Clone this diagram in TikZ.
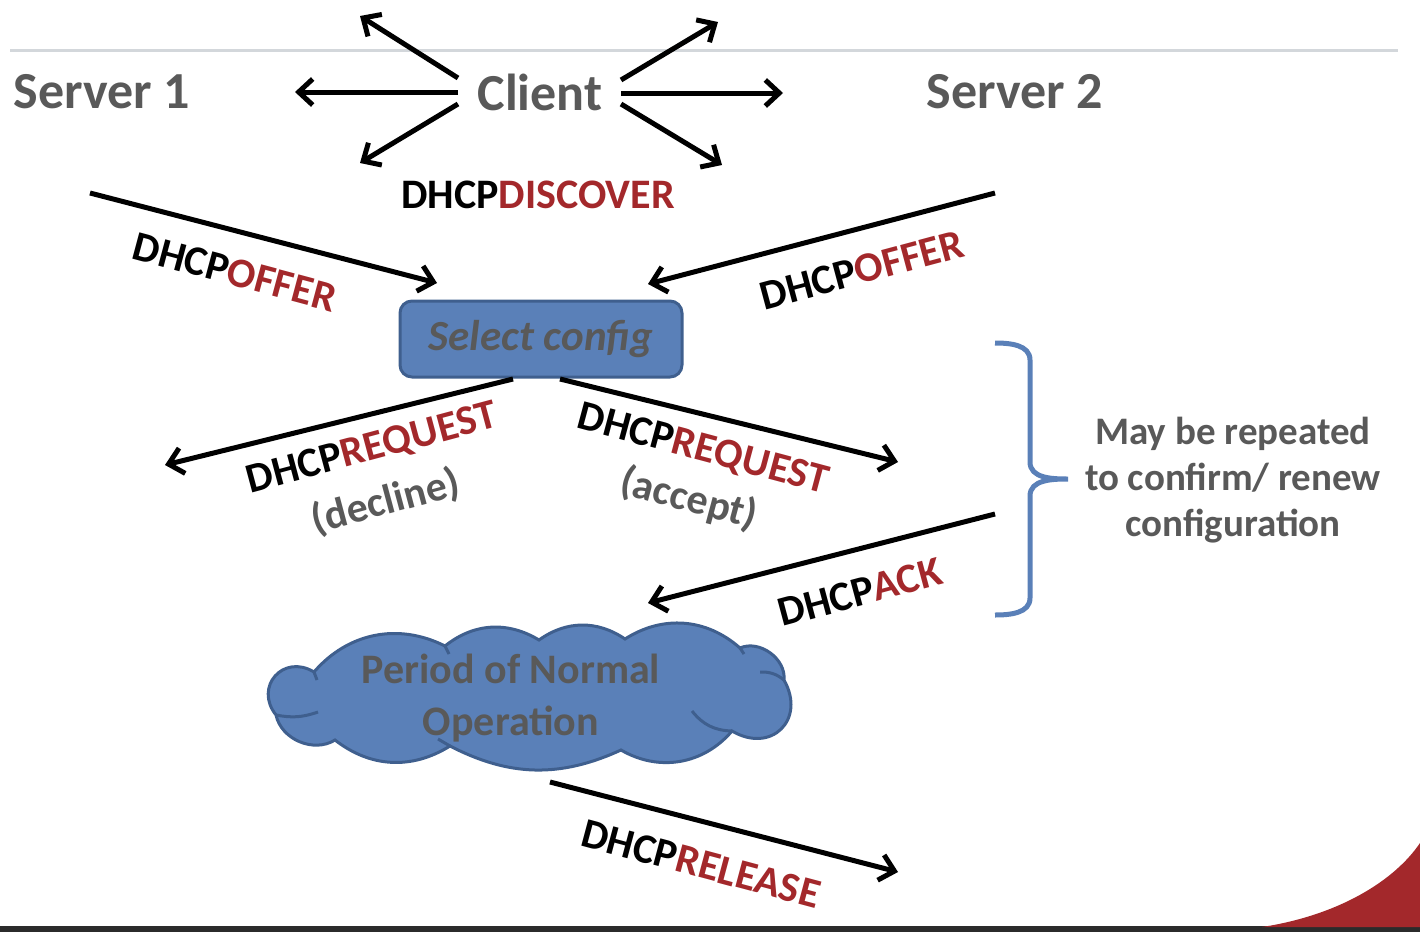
\documentclass[tikz,border=0pt]{standalone}
\usepackage{fontspec}
\setmainfont{Carlito}
\usetikzlibrary{arrows.meta}
\definecolor{dred}{HTML}{A3282B}
\definecolor{tgray}{HTML}{595959}
\definecolor{oblue}{HTML}{5A80B8}
\definecolor{bblue}{HTML}{3F5F8E}
\definecolor{lgray}{HTML}{D3D7DB}
\definecolor{bar}{HTML}{2B2B2B}
\newcommand{\dhcpmsg}[1]{DHCP\textcolor{dred}{#1}}
\tikzset{
  arr/.style={line width=2.5pt,-{Straight Barb[length=7pt,width=13pt]}},
  msg/.style={font=\bfseries\fontsize{21}{25}\selectfont,inner sep=0pt},
  sub/.style={font=\bfseries\fontsize{21}{25}\selectfont,text=tgray,inner sep=0pt},
  ttl/.style={font=\bfseries\fontsize{26}{30}\selectfont,text=tgray,inner sep=0pt},
  cloudline/.style={draw=bblue,line width=1.5pt},
}
\begin{document}
\begin{tikzpicture}[x=0.5pt,y=-0.5pt]
\useasboundingbox (0,0) rectangle (1420,932);
% background decorations
\draw[lgray,line width=1.5pt] (10,50) -- (1398,50);
\fill[bar] (0,926) rectangle (1420,932);
\fill[dred] (1262,927) .. controls (1340,915) and (1395,880) .. (1420,843) -- (1420,927) -- cycle;

% titles
\node[ttl] (s1) at (102,92) {Server 1};
\node[ttl] (cl) at (540,92) {Client};
\node[ttl] (s2) at (1015,92) {Server 2};

% client broadcast arrows
\coordinate (c0) at (458,92);
\coordinate (c1) at (458,78);
\coordinate (c2) at (458,104);
\coordinate (c3) at (621,80);
\coordinate (c4) at (621,93);
\coordinate (c5) at (621,104);
\coordinate (e0) at (295,92);
\coordinate (e1) at (360,16);
\coordinate (e2) at (360,163);
\coordinate (e3) at (718,22);
\coordinate (e4) at (783,93);
\coordinate (e5) at (722,165);
\foreach \i in {0,...,5}{\draw[arr] (c\i) -- (e\i);}
\node[msg] (disc) at (538,195) {\dhcpmsg{DISCOVER}};

% select config
\node[draw=bblue,line width=1.5pt,fill=oblue,rounded corners=6pt,minimum width=141pt,minimum height=38pt,
  font=\bfseries\itshape\fontsize{21.5}{25}\selectfont,text=tgray] (sel) at (541,339) {Select config};

% offers
\coordinate (o1s) at (90,193);
\coordinate (o1e) at (437,283);
\coordinate (o2s) at (995,193);
\coordinate (o2e) at (648,284);
\draw[arr] (o1s) -- (o1e);
\draw[arr] (o2s) -- (o2e);
\node[msg,rotate=-15] (off1) at (235,272) {\dhcpmsg{OFFER}};
\node[msg,rotate=15] (off2) at (862,270) {\dhcpmsg{OFFER}};

% requests
\coordinate (r1s) at (513,379);
\coordinate (r1e) at (165,465);
\coordinate (r2s) at (560,379);
\coordinate (r2e) at (898,462);
\draw[arr] (r1s) -- (r1e);
\draw[arr] (r2s) -- (r2e);
\node[msg,rotate=15] (req1) at (372,449) {\dhcpmsg{REQUEST}};
\node[sub,rotate=15] (dec) at (386,502) {(decline)};
\node[msg,rotate=-15] (req2) at (703,450) {\dhcpmsg{REQUEST}};
\node[sub,rotate=-15] (acc) at (689,499) {(accept)};

% ack
\coordinate (as) at (995,514);
\coordinate (ae) at (648,603);
\draw[arr] (as) -- (ae);
\node[msg,rotate=15] (ack) at (860,592) {\dhcpmsg{ACK}};

% brace
\draw[oblue,line width=2.5pt] (995,343) to[out=0,in=90] (1030,360) -- (1030,462) to[out=-90,in=180] (1068,479)
  to[out=180,in=90] (1030,496) -- (1030,598) to[out=-90,in=0] (995,615);
\node[font=\bfseries\fontsize{19.5}{23}\selectfont,text=tgray,align=center,inner sep=0pt] (rep) at (1233,480)
  {May be repeated\\to confirm/ renew\\configuration};

% cloud
\coordinate (v1) at (314,672);
\coordinate (v2) at (445,646);
\coordinate (v3) at (539,640);
\coordinate (v4) at (625,639);
\coordinate (v5) at (740,648);
\coordinate (v6) at (784,680);
\coordinate (v7) at (732,731);
\coordinate (v8) at (621,750);
\coordinate (v9) at (450,746);
\coordinate (v10) at (335,740);
\coordinate (v11) at (276,715);
\path[cloudline,fill=oblue] (v1) to[bend left=38] (v2) to[bend left=35] (v3) to[bend left=35] (v4)
  to[bend left=37] (v5) to[bend left=60] (v6) to[bend left=75,looseness=1.6] (v7) to[bend left=40] (v8)
  to[bend left=26] (v9) to[bend left=35] (v10) to[bend left=55] (v11) to[bend left=80,looseness=1.6] (v1) -- cycle;
% inner puff strokes
\draw[cloudline] (v1) -- ++(3,8);
\draw[cloudline] (v2) -- ++(4,8);
\draw[cloudline] (v5) -- ++(4,6);
\draw[cloudline] (v6) to[bend right=20] ++(-24,-8);
\draw[cloudline] (v7) to[bend left=25] ++(-40,-20);
\draw[cloudline] (v9) -- ++(-12,-7);
\draw[cloudline] (v11) to[bend right=15] ++(42,-3);
\node[font=\bfseries\fontsize{21}{26}\selectfont,text=tgray,align=center,inner sep=0pt] (ctext) at (511,698)
  {Period of Normal\\Operation};

% release
\coordinate (rls) at (550,782);
\coordinate (rle) at (898,872);
\draw[arr] (rls) -- (rle);
\node[msg,rotate=-15] (rel) at (701,864) {\dhcpmsg{RELEASE}};
\end{tikzpicture}
\end{document}
